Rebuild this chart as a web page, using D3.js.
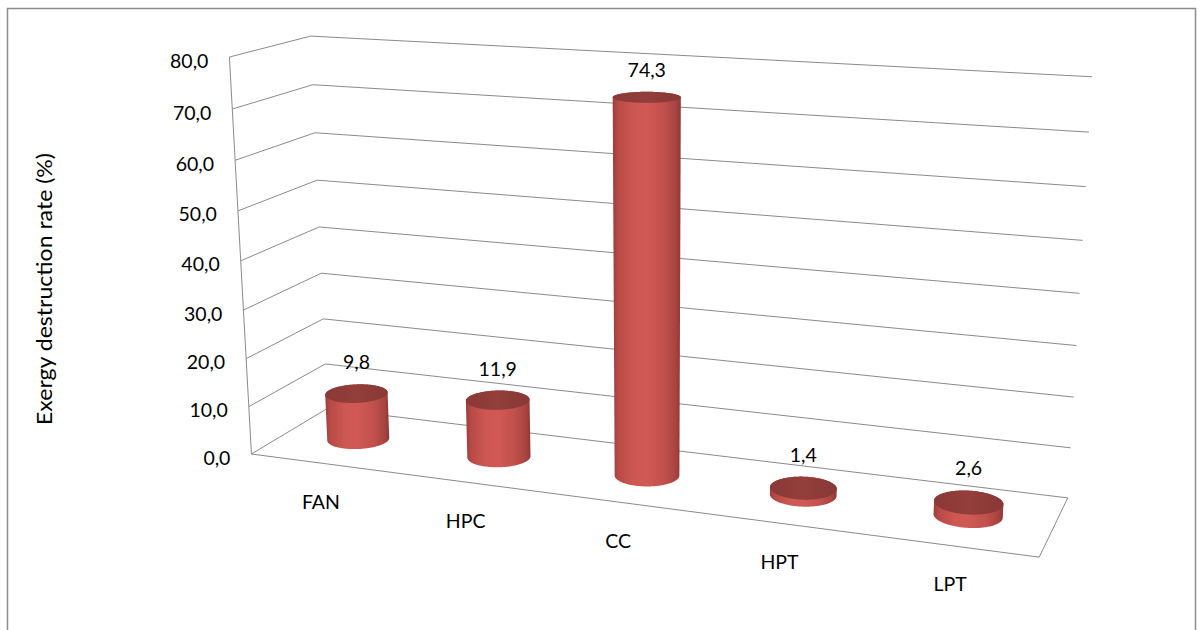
<!DOCTYPE html>
<html>
<head>
<meta charset="utf-8">
<script src="https://cdn.jsdelivr.net/npm/d3@7"></script>
<style>
  html, body { margin: 0; padding: 0; background: #fff; }
  svg { display: block; }
  text { font-family: Lato, "Open Sans", sans-serif; fill: #000; }
</style>
</head>
<body>
<svg id="chart" width="1203" height="630"></svg>
<script>
// ---- data ----
const categories = ["FAN", "HPC", "CC", "HPT", "LPT"];
const values = [9.8, 11.9, 74.3, 1.4, 2.6];
const yTicks = [0, 10, 20, 30, 40, 50, 60, 70, 80];
const yTitle = "Exergy destruction rate (%)";

// ---- layout: screen positions of the 3D plot box corners (X,Y,Z in 0..1) ----
const anchors = [
  { p: [0, 0, 0], s: [252, 454] },
  { p: [0, 1, 0], s: [228, 57] },
  { p: [0, 0, 1], s: [326, 410] },
  { p: [0, 1, 1], s: [312, 36] },
  { p: [1, 0, 1], s: [1068, 497] },
  { p: [1, 1, 1], s: [1092, 77] },
  { p: [1, 0, 0], s: [1039, 558] },
  { p: [0, 0.875, 0], s: [232, 109] },
  { p: [0, 0.875, 1], s: [313, 85] },
  { p: [1, 0.875, 1], s: [1089, 132] },
  { p: [0, 0.125, 0], s: [250, 406] },
  { p: [0, 0.125, 1], s: [325, 363] }
];

// DLT least squares fit of a 3x4 projection (p34 = 1)
function solve(A, b) {
  const n = b.length;
  const M = A.map((r, i) => r.concat([b[i]]));
  for (let c = 0; c < n; c++) {
    let piv = c;
    for (let r = c + 1; r < n; r++) if (Math.abs(M[r][c]) > Math.abs(M[piv][c])) piv = r;
    [M[c], M[piv]] = [M[piv], M[c]];
    for (let r = 0; r < n; r++) {
      if (r === c) continue;
      const f = M[r][c] / M[c][c];
      for (let k = c; k <= n; k++) M[r][k] -= f * M[c][k];
    }
  }
  return M.map((r, i) => r[n] / r[i]);
}
function fitCamera(pts) {
  const rows = [], rhs = [];
  pts.forEach(({ p: [X, Y, Z], s: [u, v] }) => {
    rows.push([X, Y, Z, 1, 0, 0, 0, 0, -u * X, -u * Y, -u * Z]); rhs.push(u);
    rows.push([0, 0, 0, 0, X, Y, Z, 1, -v * X, -v * Y, -v * Z]); rhs.push(v);
  });
  const N = 11;
  const AtA = d3.range(N).map(i => d3.range(N).map(j => d3.sum(rows, r => r[i] * r[j])));
  const Atb = d3.range(N).map(i => d3.sum(rows, (r, k) => r[i] * rhs[k]));
  return solve(AtA, Atb);
}
const P = fitCamera(anchors);
function project(X, Y, Z) {
  const w = P[8] * X + P[9] * Y + P[10] * Z + 1;
  return [(P[0] * X + P[1] * Y + P[2] * Z + P[3]) / w,
          (P[4] * X + P[5] * Y + P[6] * Z + P[7]) / w];
}

// ---- scales ----
const x = d3.scaleBand().domain(categories).range([0, 1]);
const y = d3.scaleLinear().domain([0, 80]).range([0, 1]);
const fmt = d3.formatLocale({ decimal: ",", thousands: ".", grouping: [3], currency: ["", ""] }).format(".1f");

const svg = d3.select("#chart");
const defs = svg.append("defs");
const bodyGrad = defs.append("linearGradient").attr("id", "bodyGrad")
  .attr("x1", 0).attr("x2", 1).attr("y1", 0).attr("y2", 0);
[[0, "#9c3d3a"], [0.08, "#b84a46"], [0.3, "#cd5752"], [0.5, "#d05955"], [0.75, "#c2504c"], [0.92, "#a94441"], [1, "#8e3835"]]
  .forEach(([o, c]) => bodyGrad.append("stop").attr("offset", o).attr("stop-color", c));
const topGrad = defs.append("linearGradient").attr("id", "topGrad")
  .attr("x1", 0).attr("x2", 1).attr("y1", 0).attr("y2", 0);
[[0, "#8a3936"], [0.5, "#933e3b"], [1, "#883835"]]
  .forEach(([o, c]) => topGrad.append("stop").attr("offset", o).attr("stop-color", c));

// outer frame
svg.append("rect").attr("x", 7.5).attr("y", 8.5).attr("width", 1188).attr("height", 640)
  .attr("fill", "none").attr("stroke", "#8c8c8c").attr("stroke-width", 1.5);

const line = d3.line();
const grid = svg.append("g").attr("fill", "none").attr("stroke", "#8a8a8a").attr("stroke-width", 1);

// gridlines on left wall + back wall
yTicks.forEach(t => {
  const yy = y(t);
  grid.append("path").attr("d", line([project(0, yy, 0), project(0, yy, 1), project(1, yy, 1)]));
});
// left wall front edge
grid.append("path").attr("d", line([project(0, 0, 0), project(0, 1, 0)]));
// floor outline
grid.append("path").attr("d", line([project(0, 0, 0), project(1, 0, 0), project(1, 0, 1)]));

// y tick labels
svg.append("g").selectAll("text").data(yTicks).join("text")
  .attr("x", d => project(0, y(d), 0)[0] - 21)
  .attr("y", d => project(0, y(d), 0)[1] + 3)
  .attr("text-anchor", "end").attr("dominant-baseline", "central")
  .attr("font-size", 19.5).text(d => fmt(d));

// y title
svg.append("text")
  .attr("transform", "translate(43,289) rotate(-90)")
  .attr("text-anchor", "middle").attr("dominant-baseline", "central")
  .attr("font-size", 21).attr("textLength", 272).attr("lengthAdjust", "spacingAndGlyphs")
  .text(yTitle);

// cylinders
const zc = 0.5, rz = 0.2;
function ring(cx, r, yy) {
  return d3.range(0, 360, 2).map(a => {
    const t = a * Math.PI / 180;
    return project(cx + r * Math.cos(t), yy, zc + rz * Math.sin(t));
  });
}
const bars = svg.append("g");
const labels = [];
categories.forEach((c, i) => {
  const cx = x(c) + x.bandwidth() / 2;
  const r = x.bandwidth() * 0.2;
  const h = y(values[i]);
  const bottom = ring(cx, r, 0), top = ring(cx, r, h);
  const hull = d3.polygonHull(bottom.concat(top));
  bars.append("path").attr("d", "M" + hull.join("L") + "Z").attr("fill", "url(#bodyGrad)");
  bars.append("path").attr("d", "M" + top.join("L") + "Z").attr("fill", "url(#topGrad)");
  const topY = d3.min(top, p => p[1]);
  const cxs = project(cx, h, zc)[0];
  labels.push({ x: cxs, y: topY - 15, t: fmt(values[i]) });
});

// data labels
svg.append("g").selectAll("text").data(labels).join("text")
  .attr("x", d => d.x).attr("y", d => d.y)
  .attr("text-anchor", "middle").attr("font-size", 19.5).text(d => d.t);

// category labels
svg.append("g").selectAll("text").data(categories).join("text")
  .attr("x", d => project(x(d) + x.bandwidth() / 2, 0, 0)[0])
  .attr("y", d => project(x(d) + x.bandwidth() / 2, 0, 0)[1] + 38)
  .attr("text-anchor", "middle").attr("dominant-baseline", "central")
  .attr("font-size", 19.5).text(d => d);
</script>
</body>
</html>
